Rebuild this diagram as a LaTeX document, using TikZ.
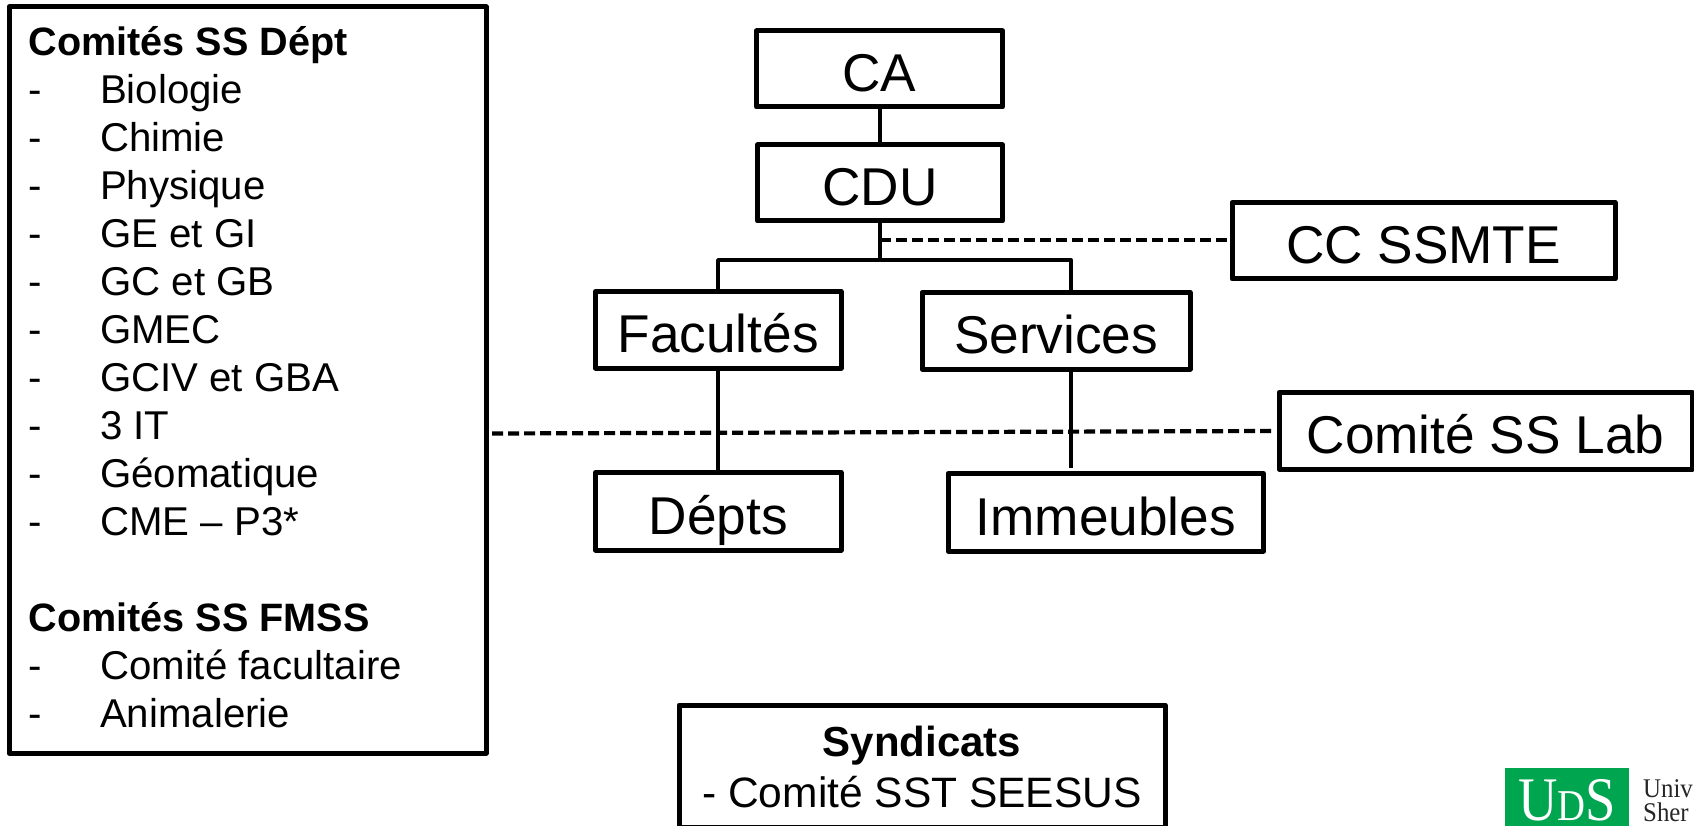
\documentclass[tikz,border=0pt]{standalone}
\usepackage{fontspec}
\setmainfont{Liberation Sans}
\newfontfamily\logofont{Liberation Serif}
\definecolor{udsgreen}{RGB}{0,165,80}
\newcommand{\lbig}{\fontsize{53.2}{60}\selectfont}
\newcommand{\lmid}{\fontsize{40.2}{48}\selectfont}
\newcommand{\lsyn}{\fontsize{42.5}{51}\selectfont}
\newcommand{\lhead}[1]{{\fontsize{39.6}{48}\selectfont\bfseries #1}}
\newcommand{\lrow}[2]{\makebox[71.5pt][l]{#1}#2\\}
\tikzset{
  x=1pt,y=-1pt,
  boxed/.style={draw=black,line width=5pt,line join=round,fill=white,inner sep=0pt,outer sep=0pt,rectangle,font=\lbig,text height=46pt,text depth=0pt},
  link/.style={draw=black,line width=4pt},
  buslink/.style={draw=black,line width=3.8pt,line join=round},
  dashlink/.style={draw=black,line width=4.2pt,dash pattern=on 11pt off 5pt},
  logolabel/.style={anchor=base west,inner sep=0pt,text=black!85,xscale=.92,transform shape,font=\logofont\fontsize{27}{27}\selectfont},
}
\newcommand{\boxat}[6]{\node[boxed,minimum width={#4-#3},minimum height={#6-#5}] (#1) at ({(#3+#4)/2},{(#5+#6)/2}) {#2};}
\begin{document}
\begin{tikzpicture}
\useasboundingbox (0,0) rectangle (1694,826);
\coordinate (bus) at (880,260);
\coordinate (busl) at (718,260);
\coordinate (busr) at (1071,260);
\coordinate (dashA) at (880,240);
\coordinate (lowerR) at (1071,468);
\boxat{ca}{CA}{756.5}{1002.5}{31}{107}
\boxat{cdu}{CDU}{757.5}{1002.5}{145}{221}
\boxat{cc}{CC SSMTE}{1232}{1615}{202.5}{279}
\boxat{fac}{Facultés}{595.5}{841}{291.5}{368}
\boxat{serv}{Services}{922}{1190}{292.5}{369}
\boxat{lab}{Comité SS Lab}{1279}{1692}{392.5}{469}
\boxat{dep}{Dépts}{595.5}{841}{472.5}{550}
\boxat{imm}{Immeubles}{948}{1263.5}{473.5}{551}
\node[boxed,minimum width=477pt,minimum height=746pt] (left) at (247.5,380) {};
\node[boxed,minimum width=486pt,minimum height=122pt] (syn) at (922,766) {};
\node[anchor=north west,inner sep=0pt,font=\lmid,align=left] (list) at (28.5,26.5) {%
\lhead{Comités SS Dépt}\\
\lrow{-}{Biologie}
\lrow{-}{Chimie}
\lrow{-}{Physique}
\lrow{-}{GE et GI}
\lrow{-}{GC et GB}
\lrow{-}{GMEC}
\lrow{-}{GCIV et GBA}
\lrow{-}{3 IT}
\lrow{-}{Géomatique}
\lrow{-}{CME – P3*}
\\
\lhead{Comités SS FMSS}\\
\lrow{-}{Comité facultaire}
\lrow{-}{Animalerie}
};
\node[font=\lsyn,align=center,inner sep=0pt] (syntext) at (922,767) {{\fontsize{42}{51}\selectfont\bfseries Syndicats}\\- Comité SST SEESUS};
\draw[link] (ca.south -| bus) -- (cdu.north -| bus);
\draw[link] (cdu.south -| bus) -- (bus);
\draw[buslink] (fac.north -| busl) -- (busl) -- (busr) -- (serv.north -| busr);
\draw[link] (fac.south -| busl) -- (dep.north -| busl);
\draw[link] (serv.south -| busr) -- (lowerR);
\draw[dashlink] (dashA) -- (cc.west |- dashA);
\coordinate (dashB) at (492,433.5);
\coordinate (dashC) at (1273,431);
\draw[dashlink] (dashB) -- (dashC);
\node[fill=udsgreen,minimum width=124pt,minimum height=58pt,inner sep=0pt,outer sep=0pt] (logo) at (1567,797) {};
\node[anchor=base,text=white,inner sep=0pt,xscale=.88,transform shape,font=\logofont] (logotext) at (1567,820) {\fontsize{62}{62}\selectfont U\fontsize{44}{44}\selectfont D\fontsize{62}{62}\selectfont S};
\node[logolabel] (uni) at (1643,797) {Univ};
\node[logolabel] (sher) at (1643,821) {Sher};
\end{tikzpicture}
\end{document}
